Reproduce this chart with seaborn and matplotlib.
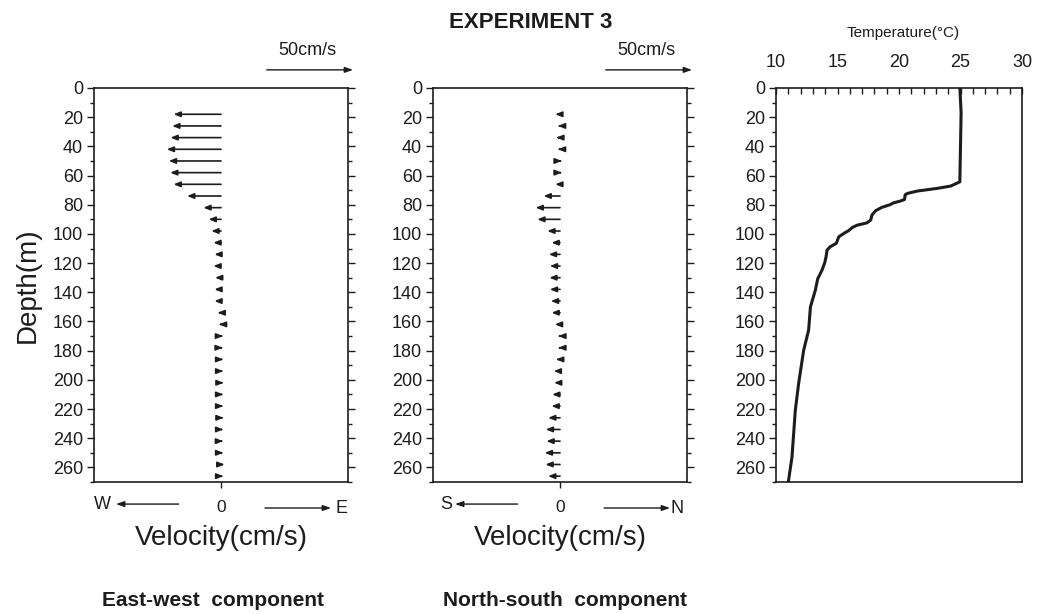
import matplotlib
matplotlib.use("Agg")
import matplotlib.pyplot as plt
from matplotlib.ticker import MultipleLocator
import seaborn as sns
import pandas as pd

sns.set_theme(style="ticks")
plt.rcParams["font.family"] = ["Liberation Sans", "DejaVu Sans"]

# ---------------- data ----------------
depth = [18, 26, 34, 42, 50, 58, 66, 74, 82, 90, 98, 106, 114, 122, 130, 138,
         146, 154, 162, 170, 178, 186, 194, 202, 210, 218, 226, 234, 242, 250,
         258, 266]

# east-west velocity (cm/s), positive = east
ew_velocity = [-28.0, -28.8, -29.8, -32.0, -30.8, -30.0, -28.0, -20.0, -10.4,
               -7.3, -5.7, -4.5, -3.9, -4.5, -3.5, -3.9, -3.9, -2.0, -1.2,
               1.2, 1.0, 1.3, 1.3, 1.5, 1.3, 1.3, 1.5, 1.3, 1.2, 1.3, 2.0, 1.3]

# north-south velocity (cm/s), positive = north
ns_velocity = [-2.8, -1.2, -2.2, -1.2, 1.0, 1.0, -2.8, -9.7, -14.4, -13.4,
               -7.5, -5.0, -6.6, -6.0, -6.3, -6.0, -5.4, -5.0, -3.0, -1.0,
               -1.0, -2.3, -3.7, -3.5, -4.6, -5.0, -7.0, -8.4, -8.0, -9.0,
               -8.6, -7.0]

temp_depth = [0, 17, 40, 62, 64.3, 67.2, 68.8, 70.6, 72.2, 73.2, 76.4, 77.5,
              78.6, 80.2, 81.8, 84.1, 87.1, 90.5, 92.4, 94.0, 95.6, 97.8, 99.2,
              102.0, 106.5, 108.8, 111.1, 115.7, 119.8, 124.8, 130.8, 138.5,
              150.0, 166.0, 179.7, 202.5, 220.8, 252.9, 270.0]
temp_value = [24.95, 25.05, 25.0, 24.95, 24.95, 24.2, 23.1, 21.5, 20.7, 20.5,
              20.45, 20.1, 19.6, 19.2, 18.6, 18.1, 17.8, 17.7, 17.4, 16.6,
              16.2, 15.9, 15.6, 15.1, 14.9, 14.4, 14.15, 14.07, 13.96, 13.74,
              13.39, 13.2, 12.8, 12.65, 12.25, 11.84, 11.57, 11.3, 11.0]

ns_labels = ("S", "N")
ew_labels = ("W", "E")
depth_ticks = [0, 20, 40, 60, 80, 100, 120, 140, 160, 180, 200, 220, 240, 260]
temp_ticks = [10, 15, 20, 25, 30]

INK = "#1c1c1c"
W, H = 1037, 614

fig = plt.figure(figsize=(W / 100, H / 100), dpi=100)
fig.patch.set_facecolor("white")


def axes_px(x0, x1, y0, y1):
    return fig.add_axes([x0 / W, 1 - y1 / H, (x1 - x0) / W, (y1 - y0) / H])


ax1 = axes_px(94, 348, 88, 482)
ax2 = axes_px(433, 687, 88, 482)
ax3 = axes_px(776, 1022, 88, 482)


def style_depth_axis(ax, right_ticks):
    ax.set_ylim(270, 0)
    ax.set_yticks(depth_ticks)
    ax.yaxis.set_minor_locator(MultipleLocator(10))
    ax.tick_params(axis="y", which="major", direction="out", length=5,
                   width=1.0, color=INK, labelsize=13, labelcolor=INK, pad=3,
                   left=True, right=right_ticks)
    ax.tick_params(axis="y", which="minor", direction="out", length=3,
                   width=1.0, color=INK, left=True, right=right_ticks)
    for s in ax.spines.values():
        s.set_color(INK)
        s.set_linewidth(1.2)
        s.set_visible(True)
    ax.set_facecolor("white")
    ax.grid(False)


VEC_STYLE = "-|>,head_length=0.32,head_width=0.13"
DIR_STYLE = "-|>,head_length=0.4,head_width=0.14"


def velocity_panel(ax, vals, labels, comp_text, comp_x, lab_x):
    ax.set_xlim(-75, 75)
    style_depth_axis(ax, True)
    for d, v in zip(depth, vals):
        ax.annotate("", xy=(v, d), xytext=(0, d),
                    arrowprops=dict(arrowstyle=VEC_STYLE, lw=1.2, color=INK,
                                    shrinkA=0, shrinkB=0))
    ax.set_xticks([0])
    ax.set_xticklabels(["0"])
    ax.tick_params(axis="x", direction="out", length=4, width=1.0, color=INK,
                   labelsize=12.5, labelcolor=INK, pad=9)
    tr = ax.get_xaxis_transform()
    # W/S and E/N direction arrows
    ax.text(lab_x[0], -0.058, labels[0], transform=tr, ha="center",
            va="center", fontsize=13, color=INK)
    ax.annotate("", xy=(-62, -0.056), xytext=(-25, -0.056), xycoords=tr,
                textcoords=tr, annotation_clip=False,
                arrowprops=dict(arrowstyle=DIR_STYLE, lw=1.0, color=INK,
                                shrinkA=0, shrinkB=0))
    ax.annotate("", xy=(65, -0.066), xytext=(26, -0.066), xycoords=tr,
                textcoords=tr, annotation_clip=False,
                arrowprops=dict(arrowstyle=DIR_STYLE, lw=1.0, color=INK,
                                shrinkA=0, shrinkB=0))
    ax.text(lab_x[1], -0.068, labels[1], transform=tr, ha="center",
            va="center", fontsize=13, color=INK)
    # scale arrow
    ax.annotate("", xy=(78, 1.046), xytext=(27, 1.046), xycoords=tr,
                textcoords=tr, annotation_clip=False,
                arrowprops=dict(arrowstyle=DIR_STYLE, lw=1.0, color=INK,
                                shrinkA=0, shrinkB=0))
    ax.text(51, 1.096, "50cm/s", transform=tr, ha="center", va="center",
            fontsize=13, color=INK)
    ax.text(0.5, -0.142, "Velocity(cm/s)", transform=ax.transAxes,
            ha="center", va="center", fontsize=20, color=INK)
    ax.text(comp_x, -0.302, comp_text, transform=ax.transAxes, ha="center",
            va="center", fontsize=15, fontweight="bold", color=INK)


velocity_panel(ax1, ew_velocity, ew_labels, "East-west  component", 0.47,
               (-70, 71))
velocity_panel(ax2, ns_velocity, ns_labels, "North-south  component", 0.52,
               (-67, 69))

# temperature panel
df_t = pd.DataFrame({"temperature": temp_value, "depth": temp_depth})
sns.lineplot(data=df_t, x="temperature", y="depth", sort=False,
             estimator=None, color=INK, lw=2.2, ax=ax3)
ax3.set_xlim(10, 30)
style_depth_axis(ax3, False)
ax3.set_xlabel("")
ax3.set_ylabel("")
ax3.xaxis.tick_top()
ax3.set_xticks(temp_ticks)
ax3.xaxis.set_minor_locator(MultipleLocator(1))
ax3.tick_params(axis="x", which="major", direction="in", length=4, width=1.0,
                color=INK, labelsize=13, labelcolor=INK, pad=12, top=True,
                bottom=False)
ax3.tick_params(axis="x", which="minor", direction="in", length=4, width=1.0,
                color=INK, top=True, bottom=False)

ax1.set_ylabel("")
ax2.set_ylabel("")

fig.text(28 / W, 1 - 285 / H, "Depth(m)", rotation=90, ha="center",
         va="center", fontsize=20, color=INK)
fig.text(531 / W, 1 - 22 / H, "EXPERIMENT 3", ha="center", va="center",
         fontsize=16, fontweight="bold", color=INK)
fig.text(903 / W, 1 - 33 / H, "Temperature(°C)", ha="center", va="center",
         fontsize=11, color=INK)

fig.savefig("out.png", dpi=100, facecolor="white")
